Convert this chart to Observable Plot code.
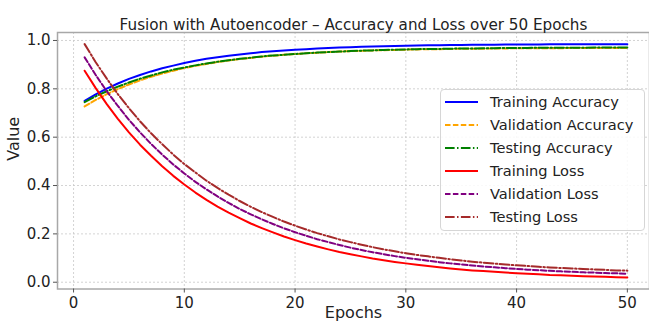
<!DOCTYPE html>
<html>
<head>
<meta charset="utf-8">
<script src="https://cdn.jsdelivr.net/npm/d3@7"></script>
<script src="https://cdn.jsdelivr.net/npm/@observablehq/plot@0.6"></script>
<style>
  html, body { margin: 0; padding: 0; background: #fff; }
  #wrap { position: relative; width: 649px; height: 327px; overflow: hidden; font-family: "DejaVu Sans", sans-serif; }
  #legend { position: absolute; left: 440px; top: 89px; width: 205px; height: 142px; box-sizing: border-box;
            border: 1px solid #d6d6d6; border-radius: 4px; background: rgba(255,255,255,0.85); padding: 0 0 0 4px; }
  .row { display: flex; align-items: center; height: 23px; font-size: 14.6px; color: #222; white-space: nowrap; }
  .row svg { margin-right: 12px; }
</style>
</head>
<body>
<div id="wrap"><div id="legend"></div></div>
<script>
const title = "Fusion with Autoencoder – Accuracy and Loss over 50 Epochs";
const xLabel = "Epochs";
const yLabel = "Value";
const xTicks = [0, 10, 20, 30, 40, 50];
const yTicks = [0.0, 0.2, 0.4, 0.6, 0.8, 1.0];

const epochs = [1,2,3,4,5,6,7,8,9,10,11,12,13,14,15,16,17,18,19,20,21,22,23,24,25,26,27,28,29,30,31,32,33,34,35,36,37,38,39,40,41,42,43,44,45,46,47,48,49,50];

const trainingAccuracy = [0.750,0.777,0.801,0.822,0.841,0.857,0.872,0.885,0.896,0.907,0.916,0.924,0.931,0.937,0.942,0.947,0.952,0.955,0.959,0.962,0.964,0.967,0.969,0.971,0.972,0.974,0.975,0.976,0.977,0.978,0.979,0.980,0.980,0.981,0.981,0.982,0.982,0.982,0.983,0.983,0.983,0.983,0.984,0.984,0.984,0.984,0.984,0.984,0.984,0.984];
const validationAccuracy = [0.727,0.754,0.778,0.799,0.818,0.835,0.850,0.863,0.875,0.886,0.895,0.903,0.911,0.917,0.923,0.928,0.933,0.937,0.941,0.944,0.947,0.949,0.952,0.954,0.956,0.957,0.959,0.960,0.961,0.962,0.963,0.964,0.964,0.965,0.966,0.966,0.966,0.967,0.967,0.968,0.968,0.968,0.968,0.968,0.969,0.969,0.969,0.969,0.969,0.969];
const testingAccuracy = [0.745,0.769,0.790,0.809,0.826,0.842,0.855,0.868,0.879,0.888,0.897,0.905,0.912,0.918,0.924,0.929,0.934,0.938,0.941,0.944,0.947,0.950,0.952,0.954,0.956,0.958,0.959,0.961,0.962,0.963,0.964,0.965,0.965,0.966,0.967,0.967,0.968,0.968,0.969,0.969,0.969,0.970,0.970,0.970,0.970,0.970,0.971,0.971,0.971,0.971];
const trainingLoss = [0.875,0.803,0.737,0.676,0.620,0.569,0.523,0.480,0.440,0.404,0.371,0.341,0.313,0.288,0.265,0.243,0.224,0.206,0.189,0.174,0.160,0.148,0.136,0.125,0.116,0.107,0.098,0.091,0.084,0.078,0.072,0.067,0.062,0.057,0.053,0.049,0.046,0.043,0.040,0.037,0.035,0.033,0.030,0.029,0.027,0.025,0.024,0.023,0.021,0.020];
const validationLoss = [0.930,0.857,0.790,0.729,0.672,0.620,0.572,0.528,0.487,0.450,0.415,0.384,0.355,0.328,0.303,0.281,0.260,0.241,0.223,0.207,0.192,0.178,0.166,0.154,0.143,0.133,0.124,0.116,0.108,0.101,0.095,0.089,0.083,0.078,0.074,0.069,0.065,0.062,0.058,0.055,0.052,0.050,0.047,0.045,0.043,0.041,0.040,0.038,0.037,0.035];
const testingLoss = [0.985,0.910,0.842,0.778,0.720,0.666,0.616,0.571,0.528,0.489,0.454,0.420,0.390,0.362,0.336,0.312,0.290,0.270,0.251,0.234,0.218,0.203,0.190,0.177,0.166,0.155,0.145,0.136,0.128,0.120,0.113,0.107,0.101,0.095,0.090,0.085,0.081,0.077,0.073,0.070,0.067,0.064,0.061,0.059,0.057,0.055,0.053,0.051,0.049,0.048];

const seriesNames = ["Training Accuracy","Validation Accuracy","Testing Accuracy","Training Loss","Validation Loss","Testing Loss"];
const seriesValues = [trainingAccuracy, validationAccuracy, testingAccuracy, trainingLoss, validationLoss, testingLoss];
const seriesColors = ["#0000ff","#ffa500","#008000","#ff0000","#800080","#a52a2a"];
const seriesDash = [null, "5.5,2.4", "9.6,2.4,1.5,2.4", null, "5.5,2.4", "9.6,2.4,1.5,2.4"];

const lineMarks = seriesNames.map((name, s) => {
  const rows = epochs.map((e, i) => ({epoch: e, value: seriesValues[s][i]}));
  return Plot.line(rows, {x: "epoch", y: "value", stroke: seriesColors[s], strokeWidth: 2,
    strokeDasharray: seriesDash[s] || undefined});
});

const chart = Plot.plot({
  width: 649,
  height: 327,
  marginLeft: 57,
  marginRight: 0,
  marginTop: 32,
  marginBottom: 38.5,
  style: {fontFamily: "DejaVu Sans, sans-serif", fontSize: "15px", color: "#222", background: "#fff"},
  x: {domain: [-1.45, 52.0]},
  y: {domain: [-0.028, 1.033]},
  marks: [
    Plot.gridX(xTicks, {stroke: "#c8c8c8", strokeOpacity: 1, strokeDasharray: "2,2", strokeWidth: 0.8}),
    Plot.gridY(yTicks, {stroke: "#c8c8c8", strokeOpacity: 1, strokeDasharray: "2,2", strokeWidth: 0.8}),
    Plot.frame({stroke: "#a8a8a8", strokeWidth: 1.5}),
    Plot.axisX(xTicks, {tickSize: 4, tickPadding: 4, fontSize: 15, stroke: "#555", label: null}),
    Plot.axisY(yTicks, {tickSize: 4, tickPadding: 3, fontSize: 15, stroke: "#555", tickFormat: d3.format(".1f"), label: null}),
    ...lineMarks,
    Plot.text([title], {frameAnchor: "top", dy: -13, fontSize: 15.2, fill: "#222", text: d => d}),
    Plot.text([xLabel], {frameAnchor: "bottom", dy: 29, fontSize: 16, fill: "#222", text: d => d}),
    Plot.text([yLabel], {frameAnchor: "left", dx: -43.5, rotate: -90, fontSize: 16, fill: "#222", text: d => d})
  ]
});
document.getElementById("wrap").prepend(chart);

const legend = d3.select("#legend");
seriesNames.forEach((name, s) => {
  const row = legend.append("div").attr("class", "row");
  const svg = row.append("svg").attr("width", 33).attr("height", 10);
  svg.append("line").attr("x1", 0).attr("x2", 33).attr("y1", 5).attr("y2", 5)
    .attr("stroke", seriesColors[s]).attr("stroke-width", 2)
    .attr("stroke-dasharray", seriesDash[s]);
  row.append("span").text(name);
});
</script>
</body>
</html>
